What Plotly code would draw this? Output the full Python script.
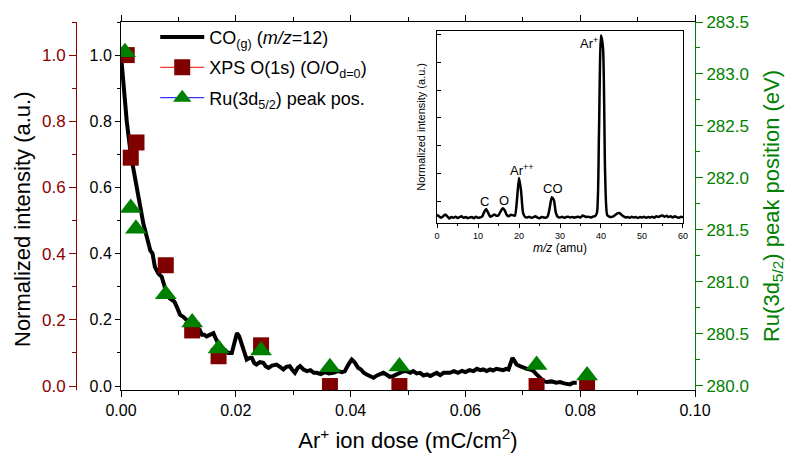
import plotly.graph_objects as go

# ---------------- data ----------------
co_dose = [0.0000, 0.0003, 0.0006, 0.0010, 0.0017, 0.0027, 0.0035, 0.0039, 0.0045, 0.0051,
           0.0055, 0.0059, 0.0065, 0.0071, 0.0076, 0.0080, 0.0085, 0.0088, 0.0093, 0.0097,
           0.0103, 0.0108, 0.0114, 0.0120, 0.0126, 0.0132, 0.0137, 0.0141, 0.0145, 0.0149,
           0.0155, 0.0161, 0.0166, 0.0172, 0.0180, 0.0187, 0.0193, 0.0198, 0.0202, 0.0206,
           0.0210, 0.0215, 0.0219, 0.0224, 0.0228, 0.0232, 0.0236, 0.0242, 0.0248, 0.0252,
           0.0257, 0.0263, 0.0271, 0.0277, 0.0283, 0.0288, 0.0294, 0.0298, 0.0303, 0.0308,
           0.0312, 0.0318, 0.0324, 0.0330, 0.0336, 0.0341, 0.0348, 0.0355, 0.0362, 0.0370,
           0.0378, 0.0385, 0.0390, 0.0396, 0.0402, 0.0407, 0.0413, 0.0418, 0.0423, 0.0428,
           0.0434, 0.0440, 0.0446, 0.0452, 0.0457, 0.0463, 0.0468, 0.0474, 0.0480, 0.0486,
           0.0492, 0.0498, 0.0504, 0.0509, 0.0515, 0.0521, 0.0527, 0.0533, 0.0539, 0.0544,
           0.0550, 0.0556, 0.0562, 0.0567, 0.0573, 0.0580, 0.0587, 0.0594, 0.0600, 0.0607,
           0.0614, 0.0620, 0.0626, 0.0631, 0.0637, 0.0643, 0.0648, 0.0654, 0.0660, 0.0666,
           0.0671, 0.0675, 0.0679, 0.0682, 0.0686, 0.0689, 0.0695, 0.0701, 0.0707, 0.0713,
           0.0719, 0.0724, 0.0730, 0.0736, 0.0742, 0.0750, 0.0758, 0.0765, 0.0772, 0.0778,
           0.0782, 0.0788, 0.0794]
co_int = [1.00, 0.93, 0.87, 0.80, 0.70, 0.60, 0.53, 0.49, 0.45, 0.41,
          0.40, 0.36, 0.34, 0.33, 0.30, 0.28, 0.265, 0.26, 0.255, 0.24,
          0.215, 0.21, 0.20, 0.19, 0.18, 0.175, 0.17, 0.155, 0.155, 0.15,
          0.155, 0.16, 0.14, 0.12, 0.11, 0.10, 0.10, 0.13, 0.16, 0.15,
          0.13, 0.10, 0.08, 0.085, 0.085, 0.07, 0.065, 0.072, 0.07, 0.06,
          0.055, 0.062, 0.065, 0.058, 0.05, 0.058, 0.06, 0.05, 0.04, 0.055,
          0.06, 0.05, 0.045, 0.048, 0.04, 0.04, 0.036, 0.042, 0.038, 0.04,
          0.045, 0.042, 0.045, 0.065, 0.08, 0.072, 0.055, 0.05, 0.04, 0.035,
          0.03, 0.025, 0.032, 0.038, 0.04, 0.034, 0.028, 0.03, 0.036, 0.04,
          0.045, 0.045, 0.04, 0.045, 0.038, 0.04, 0.032, 0.035, 0.03, 0.035,
          0.04, 0.033, 0.04, 0.04, 0.04, 0.045, 0.04, 0.046, 0.042, 0.048,
          0.045, 0.052, 0.048, 0.05, 0.045, 0.05, 0.047, 0.052, 0.05, 0.048,
          0.052, 0.05, 0.07, 0.085, 0.075, 0.065, 0.06, 0.055, 0.052, 0.05,
          0.045, 0.035, 0.025, 0.015, 0.012, 0.014, 0.01, 0.012, 0.008, 0.005,
          0.005, 0.01, 0.01]

xps_dose = [0.0010, 0.0017, 0.0027, 0.0078, 0.0124, 0.0170, 0.0244, 0.0364, 0.0485, 0.0724, 0.0812]
xps_o1s = [1.00, 0.69, 0.736, 0.365, 0.168, 0.09, 0.123, 0.0, 0.0, 0.0, 0.0]

ru_dose = [0.0007, 0.0017, 0.0026, 0.0078, 0.0124, 0.0170, 0.0244, 0.0364, 0.0485, 0.0724, 0.0812]
ru_pos = [283.21, 281.71, 281.51, 280.88, 280.61, 280.36, 280.34, 280.18, 280.185, 280.20, 280.10]

ms_mz = [0, 0.5, 1, 1.5, 2, 2.5, 3, 3.5, 4, 4.5, 5, 5.5, 6, 6.5, 7, 7.5, 8, 8.5, 9, 9.5,
         10, 10.5, 11, 11.5, 12, 12.5, 13, 13.5, 14, 14.5, 15, 15.5, 16, 16.5, 17, 17.5, 18, 18.5, 19, 19.5,
         20, 20.5, 21, 21.5, 22, 22.5, 23, 23.5, 24, 24.5, 25, 25.5, 26, 26.5, 27, 27.5, 28, 28.5, 29, 29.5,
         30, 30.5, 31, 31.5, 32, 32.5, 33, 33.5, 34, 34.5, 35, 35.5, 36, 36.5, 37, 37.5, 38, 38.5, 39, 39.5,
         40, 40.5, 41, 41.5, 42, 42.5, 43, 43.5, 44, 44.5, 45, 45.5, 46, 46.5, 47, 47.5, 48, 48.5, 49, 49.5,
         50, 50.5, 51, 51.5, 52, 52.5, 53, 53.5, 54, 54.5, 55, 55.5, 56, 56.5, 57, 57.5, 58, 58.5, 59, 59.5, 60]
ms_int = [0.02, 0.012, 0.005, 0.012, 0.022, 0.012, 0.0, 0.008, 0.004, 0.01,
          0.003, 0.008, 0.012, 0.004, 0.009, 0.002, 0.006, 0.008, 0.002, 0.01,
          0.004, 0.006, 0.01, 0.035, 0.052, 0.03, 0.01, 0.015, 0.022, 0.015,
          0.018, 0.038, 0.055, 0.045, 0.02, 0.012, 0.02, 0.018, 0.015, 0.10,
          0.22, 0.15, 0.03, 0.008, 0.006, 0.01, 0.004, 0.008, 0.012, 0.005,
          0.002, 0.008, 0.006, 0.004, 0.012, 0.06, 0.115, 0.10, 0.03, 0.008,
          0.006, 0.01, 0.004, 0.008, 0.01, 0.006, 0.009, 0.005, 0.008, 0.01,
          0.006, 0.016, 0.012, 0.008, 0.01, 0.006, 0.01, 0.012, 0.03, 0.45,
          0.99, 0.92, 0.25, 0.02, 0.01, 0.008, 0.012, 0.02, 0.028, 0.03,
          0.02, 0.012, 0.006, 0.008, 0.004, 0.01, 0.006, 0.008, 0.003, 0.008,
          0.006, 0.01, 0.004, 0.008, 0.006, 0.01, 0.005, 0.012, 0.008, 0.014,
          0.016, 0.01, 0.015, 0.008, 0.012, 0.006, 0.012, 0.008, 0.004, 0.01, 0.006]

ms_labels = ["C", "O", "Ar<sup>++</sup>", "CO", "Ar<sup>+</sup>"]
ms_label_x = [11.7, 16.3, 20.7, 28.3, 37.0]
ms_label_y = [0.091, 0.10, 0.262, 0.16, 0.949]

FONT = "Arial, Liberation Sans, sans-serif"
RED = "#8B0000"
GREEN = "#008000"
MAROON = "#800000"

fig = go.Figure()

fig.add_trace(go.Scatter(x=co_dose, y=co_int, mode="lines", line=dict(color="black", width=4),
                         showlegend=False, xaxis="x", yaxis="y"))
fig.add_trace(go.Scatter(x=xps_dose, y=xps_o1s, mode="markers",
                         marker=dict(symbol="square", size=16, color=MAROON),
                         showlegend=False, xaxis="x", yaxis="y"))
fig.add_trace(go.Scatter(x=ru_dose, y=ru_pos, mode="markers",
                         marker=dict(symbol="triangle-up", size=19, color=GREEN),
                         showlegend=False, xaxis="x", yaxis="y2"))

# legend entries
fig.add_trace(go.Scatter(x=[None], y=[None], mode="lines", line=dict(color="black", width=4),
                         name="CO<sub>(g)</sub> (<i>m/z</i>=12)", legendgroup="a", xaxis="x", yaxis="y"))
fig.add_trace(go.Scatter(x=[None], y=[None], mode="lines+markers", line=dict(color="red", width=1),
                         marker=dict(symbol="square", size=16, color=MAROON), legendgroup="b",
                         name="XPS O(1s) (O/O<sub>d=0</sub>)", xaxis="x", yaxis="y"))
fig.add_trace(go.Scatter(x=[None], y=[None], mode="lines+markers", line=dict(color="blue", width=1),
                         marker=dict(symbol="triangle-up", size=19, color=GREEN), legendgroup="c",
                         name="Ru(3d<sub>5/2</sub>) peak pos.", xaxis="x", yaxis="y"))

# inset spectrum
fig.add_trace(go.Scatter(x=ms_mz, y=ms_int, mode="lines", line=dict(color="black", width=2.5, shape="spline", smoothing=0.6),
                         showlegend=False, xaxis="x2", yaxis="y4"))

annotations = []
for t, xx, yy in zip(ms_labels, ms_label_x, ms_label_y):
    annotations.append(dict(text=t, x=xx, y=yy, xref="x2", yref="y4", showarrow=False,
                            font=dict(family=FONT, size=13, color="black")))
annotations.append(dict(text="Normalized intensity (a.u.)", x=(22 - 76) / 619, y=(390 - 219) / 368,
                        xref="paper", yref="paper", xanchor="center", yanchor="middle",
                        showarrow=False, textangle=-90, font=dict(family=FONT, size=22, color="black")))

fig.update_layout(
    width=792, height=455,
    margin=dict(l=76, r=97, t=22, b=65, autoexpand=False),
    paper_bgcolor="white", plot_bgcolor="white",
    font=dict(family=FONT, color="black"),
    showlegend=True,
    legend=dict(x=0.128, y=1.009, xanchor="left", yanchor="top", bgcolor="rgba(0,0,0,0)",
                font=dict(family=FONT, size=18, color="black"), tracegroupgap=4,
                traceorder="grouped", itemwidth=44),
    xaxis=dict(domain=[45 / 619, 1], range=[0, 0.1], dtick=0.02, tickformat=".2f", automargin=False,
               showgrid=False, zeroline=False, showline=True, linecolor="black", linewidth=1,
               mirror="ticks", ticks="outside", ticklen=6, tickcolor="black",
               minor=dict(dtick=0.01, ticks="outside", ticklen=4, tickcolor="black"),
               tickfont=dict(size=16, color="black"),
               title=dict(text="Ar<sup>+</sup> ion dose (mC/cm<sup>2</sup>)", font=dict(size=22, color="black"), standoff=14),
               anchor="y"),
    yaxis=dict(range=[-0.012, 1.1], dtick=0.2, tickformat=".1f", automargin=False,
               showgrid=False, zeroline=False, showline=True, linecolor="black", linewidth=1,
               ticks="outside", ticklen=5, tickcolor="black",
               minor=dict(dtick=0.1, ticks="outside", ticklen=3, tickcolor="black"),
               tickfont=dict(size=16, color="black"), anchor="x"),
    yaxis2=dict(range=[279.96, 283.5], dtick=0.5, tickformat=".1f", overlaying="y", side="right",
                anchor="x", automargin=False, showgrid=False, zeroline=False, showline=True, linecolor=GREEN, linewidth=1,
                ticks="outside", ticklen=7, tickcolor=GREEN,
                minor=dict(dtick=0.25, ticks="outside", ticklen=4, tickcolor=GREEN),
                tickfont=dict(size=17, color=GREEN),
                title=dict(text="Ru(3d<sub>5/2</sub>) peak position (eV)", font=dict(size=22, color=GREEN), standoff=15)),
    yaxis3=dict(range=[-0.012, 1.1], dtick=0.2, tickformat=".1f", overlaying="y", side="left",
                anchor="free", position=0, automargin=False, showgrid=False, zeroline=False, showline=True,
                linecolor=RED, linewidth=1, ticks="outside", ticklen=7, tickcolor=RED,
                minor=dict(dtick=0.1, ticks="outside", ticklen=4, tickcolor=RED),
                tickfont=dict(size=17, color=RED)),
    xaxis2=dict(domain=[0.5832, 0.9806], range=[0, 60], dtick=10, anchor="y4", automargin=False,
                showgrid=False, zeroline=False, showline=True, linecolor="black", linewidth=1,
                mirror=True, ticks="outside", ticklen=4, tickcolor="black",
                minor=dict(dtick=5, ticks="outside", ticklen=2, tickcolor="black"),
                tickfont=dict(size=9, color="black"),
                title=dict(text="<i>m/z</i> (amu)", font=dict(size=12, color="black"), standoff=2)),
    yaxis4=dict(domain=[0.4538, 0.9764], range=[-0.024, 1.015], anchor="x2", automargin=False,
                tick0=0.094, dtick=0.15, showticklabels=False,
                showgrid=False, zeroline=False, showline=True, linecolor="black", linewidth=1,
                mirror=True, ticks="inside", ticklen=4, tickcolor="black",
                title=dict(text="Normalized intensity (a.u.)", font=dict(size=11, color="black"), standoff=8)),
    annotations=annotations,
)

fig.add_trace(go.Scatter(x=[None], y=[None], xaxis="x", yaxis="y3", showlegend=False, hoverinfo="skip"))

fig.write_html("out.html")
